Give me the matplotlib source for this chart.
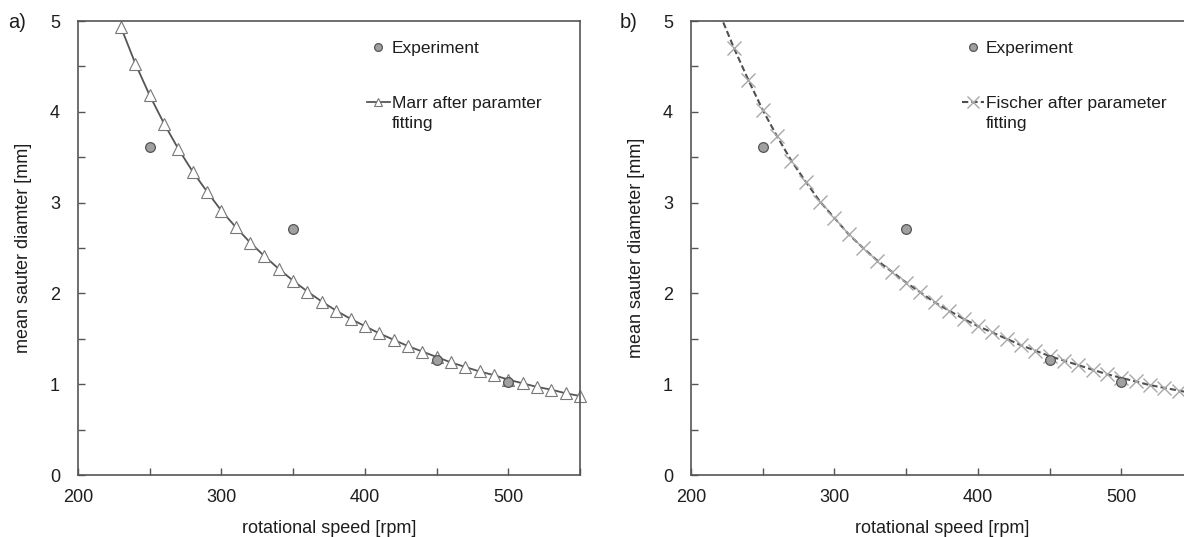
import matplotlib
matplotlib.use("Agg")
import matplotlib.pyplot as plt
from matplotlib.ticker import MultipleLocator

plt.rcParams['font.family'] = ['Liberation Sans', 'DejaVu Sans']

# Experimental data
exp_speed = [250, 350, 450, 500]
exp_d32 = [3.61, 2.71, 1.27, 1.02]

# Marr model after parameter fitting
marr_speed = [230, 240, 250, 260, 270, 280, 290, 300, 310, 320, 330, 340, 350,
              360, 370, 380, 390, 400, 410, 420, 430, 440, 450, 460, 470, 480,
              490, 500, 510, 520, 530, 540, 550]
marr_d32 = [4.93, 4.53, 4.18, 3.87, 3.59, 3.34, 3.12, 2.91, 2.73, 2.56, 2.41,
            2.27, 2.14, 2.02, 1.91, 1.81, 1.72, 1.64, 1.56, 1.49, 1.42, 1.36,
            1.30, 1.24, 1.19, 1.14, 1.10, 1.05, 1.01, 0.97, 0.94, 0.90, 0.87]

# Fischer model after parameter fitting
fischer_speed = [220, 230, 240, 250, 260, 270, 280, 290, 300, 310, 320, 330,
                 340, 350, 360, 370, 380, 390, 400, 410, 420, 430, 440, 450,
                 460, 470, 480, 490, 500, 510, 520, 530, 540, 550]
fischer_d32 = [5.08, 4.70, 4.35, 4.02, 3.73, 3.46, 3.23, 3.01, 2.83, 2.65,
               2.50, 2.36, 2.24, 2.12, 2.01, 1.90, 1.81, 1.72, 1.64, 1.57,
               1.50, 1.43, 1.37, 1.31, 1.26, 1.21, 1.16, 1.11, 1.07, 1.03,
               0.99, 0.96, 0.93, 0.90]

x_ticks = [200, 300, 400, 500]
y_ticks = [0, 1, 2, 3, 4, 5]

W, H = 1184, 537
fig = plt.figure(figsize=(W / 100, H / 100), dpi=100)

ax_a = fig.add_axes([78 / W, (H - 475) / H, 502 / W, 454 / H])
ax_b = fig.add_axes([691 / W, (H - 475) / H, 502 / W, 454 / H])

txt = '#1e1e1e'
spine_c = '#555555'

def style(ax, ylabel):
    ax.set_xlim(200, 550)
    ax.set_ylim(0, 5)
    ax.set_xticks(x_ticks)
    ax.set_yticks(y_ticks)
    ax.xaxis.set_minor_locator(MultipleLocator(50))
    ax.yaxis.set_minor_locator(MultipleLocator(0.5))
    ax.tick_params(which='both', direction='in', color=spine_c, top=False, right=False,
                   labelsize=13, labelcolor=txt, width=1)
    ax.tick_params(which='both', length=5)
    ax.tick_params(axis='x', pad=10)
    ax.tick_params(axis='y', pad=13)
    for s in ax.spines.values():
        s.set_color(spine_c)
        s.set_linewidth(1.2)
    ax.set_xlabel('rotational speed [rpm]', fontsize=13, color=txt, labelpad=10)
    ax.set_ylabel(ylabel, fontsize=13, color=txt, labelpad=13)

def make_legend(ax, x0, second_line):
    h, l = ax.get_legend_handles_labels()
    leg = ax.legend(h[::-1], l[::-1], loc='upper left', bbox_to_anchor=(x0, 0.99),
                    frameon=False, fontsize=12.5, handlelength=1.3, handletextpad=0.1,
                    labelspacing=2.3, labelcolor=txt, markerscale=0.8)
    fig.canvas.draw()
    t = leg.get_texts()[1]
    ax.annotate(second_line, xy=(0, 0), xycoords=t, xytext=(0, -3.5),
                textcoords='offset points', va='top', ha='left',
                fontsize=12.5, color=txt)

# Panel a
ax_a.plot(marr_speed, marr_d32, '-', color='#555555', lw=1.3, marker='^', ms=8,
          mfc='white', mec='#777777', mew=0.8, label='Marr after paramter',
          clip_on=False, zorder=2)
ax_a.plot(exp_speed, exp_d32, 'o', ms=7, mfc='#a0a0a0', mec='#555555', mew=0.9,
          label='Experiment', zorder=3)
style(ax_a, 'mean sauter diamter [mm]')
make_legend(ax_a, 0.545, 'fitting')

# Panel b
ax_b.plot(fischer_speed, fischer_d32, linestyle=(0, (3, 1.5)), color='#505050', lw=1.5,
          marker='x', ms=10, mec='#a8a8a8', mew=1.0,
          label='Fischer after parameter', zorder=2)
ax_b.plot(exp_speed, exp_d32, 'o', ms=7, mfc='#a0a0a0', mec='#555555', mew=0.9,
          label='Experiment', zorder=3)
style(ax_b, 'mean sauter diameter [mm]')
make_legend(ax_b, 0.508, 'fitting')

fig.text(8 / W, 1 - 22 / H, 'a)', fontsize=14.5, color=txt, va='center', ha='left')
fig.text(620 / W, 1 - 22 / H, 'b)', fontsize=14.5, color=txt, va='center', ha='left')

fig.savefig('out.png', dpi=100)
